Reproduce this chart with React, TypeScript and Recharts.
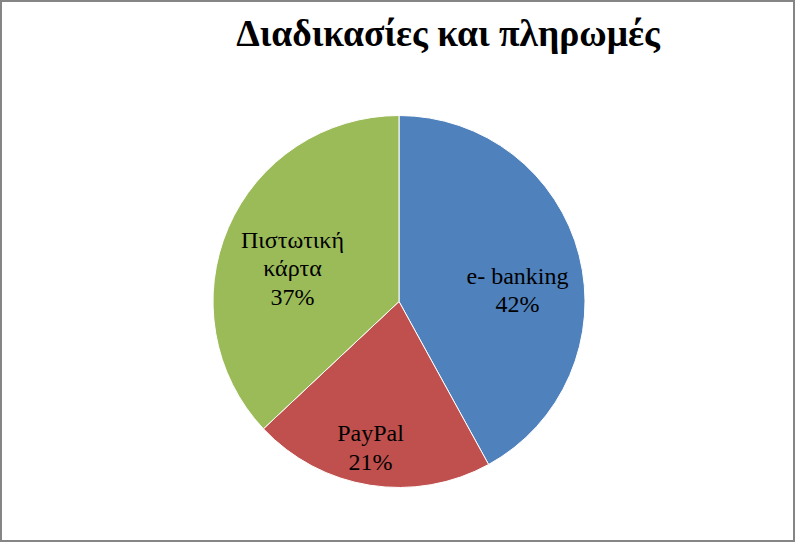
import React from 'react'
import { Cell, Pie, PieChart } from 'recharts'

const categories = ['e- banking', 'PayPal', 'Πιστωτική κάρτα']
const labelLines = [['e- banking'], ['PayPal'], ['Πιστωτική', 'κάρτα']]
const shares = [42, 21, 37]
const colors = ['#4F81BD', '#C0504D', '#9BBB59']

// where Excel put each label: fraction of the radius, and a turn from the slice middle
const labelRadius = [0.64, 0.8, 0.6]
const labelTurn = [-8.8, -2, 6]

const data = categories.map((name, i) => ({ name, value: shares[i] }))

const RADIAN = Math.PI / 180
const serif = '"Liberation Serif", "Times New Roman", serif'

const renderLabel = (props: any) => {
  const { cx, cy, midAngle, outerRadius, index } = props
  const r = outerRadius * labelRadius[index]
  const a = (midAngle + labelTurn[index]) * RADIAN
  const x = cx + r * Math.cos(a)
  const y = cy - r * Math.sin(a)
  const lines = [...labelLines[index], `${shares[index]}%`]
  const lh = 28.5
  const top = y - ((lines.length - 1) * lh) / 2
  return (
    <text
      x={x}
      y={top}
      textAnchor="middle"
      dominantBaseline="central"
      fill="#000"
      fontFamily={serif}
      fontSize={24}
    >
      {lines.map((l, i) => (
        <tspan key={i} x={x} y={top + i * lh}>
          {l}
        </tspan>
      ))}
    </text>
  )
}

export default function App() {
  return (
    <div
      style={{
        position: 'absolute',
        left: 0,
        top: 0,
        width: 795,
        height: 542,
        boxSizing: 'border-box',
        border: '2px solid #858585',
        background: '#fff',
      }}
    >
      <div
        style={{
          position: 'absolute',
          left: 446,
          top: 10,
          transform: 'translateX(-50%)',
          whiteSpace: 'nowrap',
          fontFamily: serif,
          fontWeight: 'bold',
          fontSize: 37.5,
          color: '#000',
        }}
      >
        Διαδικασίες και πληρωμές
      </div>
      <div style={{ position: 'absolute', left: -2, top: -2 }}>
        <PieChart width={795} height={542} margin={{ top: 0, right: 0, bottom: 0, left: 0 }}>
          <Pie
            data={data}
            dataKey="value"
            nameKey="name"
            cx={399}
            cy={301.5}
            outerRadius={186}
            startAngle={90}
            endAngle={-270}
            stroke="#fff"
            strokeWidth={1}
            label={renderLabel}
            labelLine={false}
            isAnimationActive={false}
          >
            {data.map((d, i) => (
              <Cell key={d.name} fill={colors[i]} />
            ))}
          </Pie>
        </PieChart>
      </div>
    </div>
  )
}
